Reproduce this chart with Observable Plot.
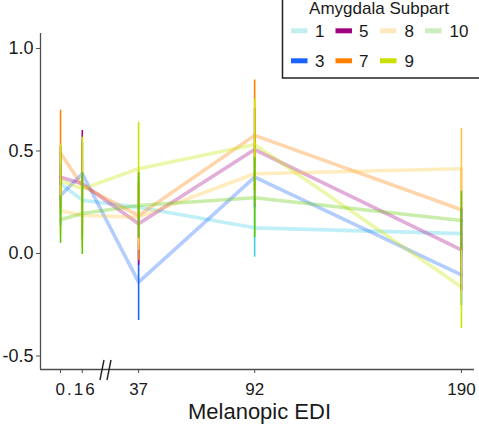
<!DOCTYPE html>
<html><head><meta charset="utf-8">
<script src="https://cdn.jsdelivr.net/npm/d3@7"></script>
<script src="https://cdn.jsdelivr.net/npm/@observablehq/plot@0.6"></script>
<style>
body{margin:0;background:#fff;}
#wrap{position:relative;width:479px;height:438px;overflow:hidden;font-family:"Liberation Sans",Arial,sans-serif;}
#wrap svg{position:absolute;left:0;top:0;}
</style></head><body><div id="wrap"></div>
<script>
// ---- data ----
const subparts = ["1", "3", "5", "7", "8", "9", "10"];
const ediLabels = ["0", "0.16", "37", "92", "190"];
const ediPos = [0, 10.3, 37, 92, 190];          // 0.16 sits on a broken axis segment
const yTicks = [-0.5, 0, 0.5, 1.0];

const mean1  = [0.340, 0.260, 0.225, 0.125, 0.097];
const mean3  = [0.283, 0.389, -0.140, 0.372, -0.104];
const mean5  = [0.372, 0.340, 0.145, 0.507, 0.018];
const mean7  = [0.489, 0.330, 0.185, 0.576, 0.213];
const mean8  = [0.210, 0.185, 0.177, 0.389, 0.413];
const mean9  = [0.356, 0.315, 0.413, 0.532, -0.164];
const mean10 = [0.164, 0.195, 0.234, 0.272, 0.161];

const err1  = [0.150, 0.200, 0.150, 0.143, 0.120];
const err3  = [0.150, 0.150, 0.187, 0.150, 0.150];
const err5  = [0.150, 0.260, 0.203, 0.200, 0.200];
const err7  = [0.210, 0.200, 0.219, 0.270, 0.200];
const err8  = [0.120, 0.150, 0.162, 0.150, 0.197];
const err9  = [0.174, 0.252, 0.227, 0.222, 0.203];
const err10 = [0.115, 0.200, 0.160, 0.195, 0.143];

const barColors    = ["#3fcfe6", "#1a66ff", "#a8078a", "#ff8000", "#ffc840", "#c8e600", "#5ec800"];
const legendColors = ["#c2eef0", "#1b63ff", "#a0037f", "#ff8000", "#fde9bd", "#c9e000", "#cdeebc"];

const means = [mean1, mean3, mean5, mean7, mean8, mean9, mean10];
const errs  = [err1, err3, err5, err7, err8, err9, err10];
const rows = [];
subparts.forEach((s, si) => ediPos.forEach((p, i) => rows.push({
  sub: s, pos: p, mean: means[si][i], lo: means[si][i] - errs[si][i], hi: means[si][i] + errs[si][i]
})));

const xDom = [-9.5, 196.2], yDom = [-0.566, 1.073];
const axisCol = "#4d4d4d", textCol = "#1a1a1a";

const plot = Plot.plot({
  width: 479, height: 438,
  marginTop: 33, marginBottom: 69, marginLeft: 40, marginRight: 5,
  x: {domain: xDom}, y: {domain: yDom},
  color: {domain: subparts, range: barColors},
  style: {fontFamily: '"Liberation Sans", Arial, sans-serif', fontSize: "17px", color: textCol, background: "#fff"},
  marks: [
    Plot.line(rows, {x: "pos", y: "mean", z: "sub", stroke: "sub", strokeOpacity: 0.33, strokeWidth: 3.6}),
    Plot.ruleX(rows, {x: "pos", y1: "lo", y2: "hi", stroke: "sub", strokeWidth: 1.6}),
    Plot.ruleX([xDom[0]], {stroke: axisCol, strokeWidth: 1.3}),
    Plot.ruleY([yDom[0]], {stroke: axisCol, strokeWidth: 1.3}),
    Plot.axisY({ticks: yTicks, tickFormat: d => d.toFixed(1), tickSize: 4, tickPadding: 3, fontSize: 18, stroke: axisCol, fill: textCol, label: null}),
    Plot.axisX({ticks: ediPos, tickFormat: d => (d === ediPos[0] || d === ediPos[1]) ? "" : ediLabels[ediPos.indexOf(d)],
      tickSize: 4, tickPadding: 9, fontSize: 17, stroke: axisCol, fill: textCol, label: null}),
    Plot.text([ediLabels[1]], {x: ediPos[0], frameAnchor: "bottom", lineAnchor: "top", dy: 13, dx: -5, textAnchor: "start", fontSize: 17, fill: textCol}),
    Plot.text(["Melanopic EDI"], {frameAnchor: "bottom", lineAnchor: "top", dy: 34, dx: 2, fontSize: 22, fill: textCol})
  ]
});
document.getElementById("wrap").appendChild(plot);

const svg = d3.select(plot);
svg.selectAll("text").filter(function(){ return this.textContent === "0.16"; }).style("letter-spacing", "2px");

// axis break mark
const xs = plot.scale("x"), ys = plot.scale("y");
const bx = xs.apply(21.3), by = ys.apply(yDom[0]);
[-3, 4].forEach(o => svg.append("line")
  .attr("x1", bx + o - 2).attr("y1", by + 11).attr("x2", bx + o + 2).attr("y2", by - 9)
  .attr("stroke", "#222").attr("stroke-width", 1.4));

// legend (overlay)
const leg = d3.select("#wrap").append("svg").attr("width", 479).attr("height", 438)
  .style("pointer-events", "none");
leg.append("rect").attr("x", 282.5).attr("y", -10).attr("width", 220).attr("height", 88)
  .attr("fill", "#fff").attr("stroke", "#222").attr("stroke-width", 1.5);
leg.append("text").attr("x", 379).attr("y", 13.5).attr("text-anchor", "middle")
  .attr("font-size", 17).attr("fill", textCol).text("Amygdala Subpart");
const swX = [291, 335.5, 380, 425], lbX = [315, 359, 404.5, 449.5], rowY = [30.8, 60.8];
subparts.forEach((s, i) => {
  const c = Math.floor(i / 2), r = i % 2;
  leg.append("rect").attr("x", swX[c]).attr("y", rowY[r] - 2.5).attr("width", 16.5).attr("height", 5)
    .attr("fill", legendColors[i]);
  leg.append("text").attr("x", lbX[c]).attr("y", rowY[r] + 6).attr("font-size", 17)
    .attr("fill", textCol).text(s);
});
</script></body></html>
